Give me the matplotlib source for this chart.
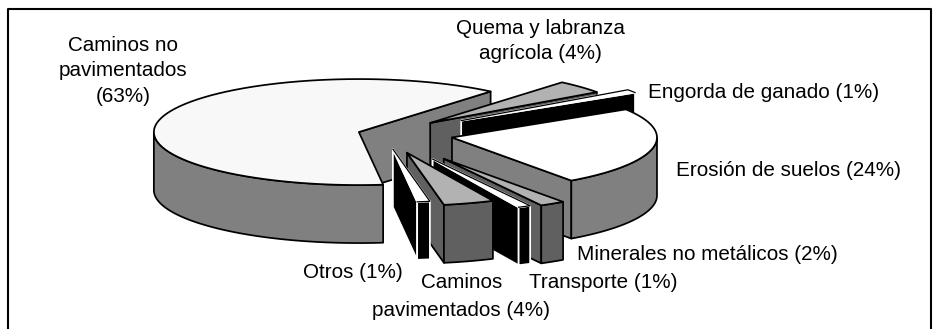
import numpy as np
import matplotlib
matplotlib.use("Agg")
import matplotlib.pyplot as plt

plt.rcParams['font.family'] = ['Liberation Sans', 'DejaVu Sans']

categories = ["Caminos no pavimentados", "Otros", "Caminos pavimentados", "Transporte",
              "Minerales no metálicos", "Erosión de suelos", "Engorda de ganado",
              "Quema y labranza agrícola"]
values = [63, 1, 4, 1, 2, 24, 1, 4]
explode = [0.128, 0.29, 0.37, 0.53, 0.55, 0.338, 0.453, 0.307]
top_colors = ["#f8f8f8", "#ffffff", "#b2b2b2", "#ffffff", "#b2b2b2", "#ffffff", "#ffffff", "#b2b2b2"]
side_colors = ["#808080", "#000000", "#606060", "#000000", "#606060", "#808080", "#000000", "#606060"]
edge_colors = ["#000000", "#ffffff", "#000000", "#ffffff", "#000000", "#000000", "#ffffff", "#000000"]
draw_order = [0, 7, 6, 5, 4, 3, 2, 1]

labels = [
    ("Caminos no\npavimentados\n(63%)", 123, 71),
    ("Quema y labranza\nagrícola (4%)", 540, 41),
    ("Engorda de ganado (1%)", 764, 92),
    ("Erosión de suelos (24%)", 789, 171),
    ("Minerales no metálicos (2%)", 707, 255),
    ("Transporte (1%)", 603, 283),
    ("Otros (1%)", 353, 272),
    ("Caminos", 462, 283),
    ("pavimentados (4%)", 461, 311),
]

CX, CY, RX, RY, DEPTH = 384, 134, 205, 53, 58
START = 50

fig = plt.figure(figsize=(9.38, 3.29), dpi=100)
ax = fig.add_axes([0, 0, 1, 1])
ax.set_xlim(0, 938)
ax.set_ylim(329, 0)
ax.axis("off")

ax.plot([8, 8, 931, 931], [329, 9, 9, 329], color="black", lw=1.5, clip_on=False)
LW = 1.25


def pt(t, ox, oy):
    return ox + RX * np.cos(np.radians(t)), oy - RY * np.sin(np.radians(t))


def arc(a, b, ox, oy):
    t = np.linspace(a, b, 80)
    return pt(t, ox, oy)


bounds = START + np.concatenate([[0], np.cumsum(values)]) * 3.6
for i in draw_order:
    a, b = bounds[i], bounds[i + 1]
    mid = (a + b) / 2
    ox, oy = pt(mid, 0, 0)
    ox = CX + explode[i] * ox
    oy = CY + explode[i] * oy
    fc, ec = side_colors[i], edge_colors[i]
    # cut faces
    for ang, normal in ((a, a - 90), (b, b + 90)):
        if np.sin(np.radians(normal)) < 0:
            ex, ey = pt(ang, ox, oy)
            ax.fill([ox, ex, ex, ox], [oy, ey, ey + DEPTH, oy + DEPTH],
                    facecolor=fc, edgecolor=ec, lw=LW, joinstyle="round")
    # outer wall
    for k in (0, 360):
        lo, hi = max(a, 180 + k), min(b, 360 + k)
        if hi > lo:
            xs, ys = arc(lo, hi, ox, oy)
            ax.fill(np.r_[xs, xs[::-1]], np.r_[ys, ys[::-1] + DEPTH],
                    facecolor=fc, edgecolor=ec, lw=LW, joinstyle="round")
    # top
    xs, ys = arc(a, b, ox, oy)
    ax.fill(np.r_[ox, xs], np.r_[oy, ys], facecolor=top_colors[i],
            edgecolor=ec, lw=LW, joinstyle="round")
    if ec == "#ffffff":
        ax.plot(np.r_[xs[0], xs, ox], np.r_[ys[0], ys, oy], color="black", lw=0.9)

for text, x, y in labels:
    ax.text(x, y, text, ha="center", va="center", fontsize=14.9, color="black",
            linespacing=1.45)

fig.savefig("out.png", dpi=100)
